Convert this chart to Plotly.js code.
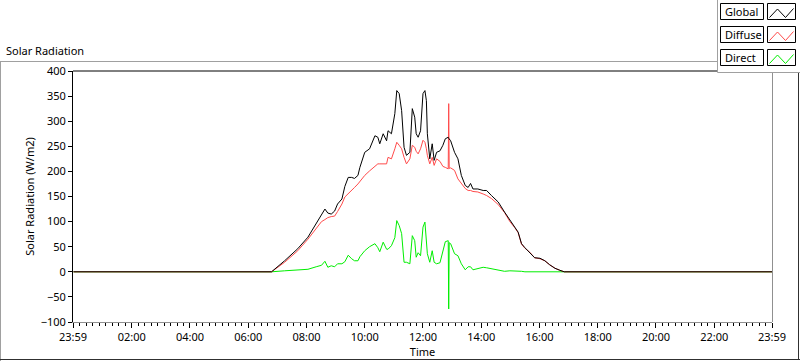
<!DOCTYPE html>
<html><head><meta charset="utf-8">
<script src="https://cdn.plot.ly/plotly-3.0.1.min.js"></script>
<style>html,body{margin:0;padding:0;background:#fff;}#chart{width:800px;height:361px;}</style>
</head><body><div id="chart"></div>
<script>
// ---- data ----
const times = ["00:00","06:48","07:15","07:42","08:03","08:20","08:31","08:38","08:44","08:51","08:58","09:04","09:13","09:19","09:26","09:33","09:39","09:46","09:50","10:00","10:10","10:21","10:27","10:31","10:38","10:45","10:48","10:55","11:02","11:06","11:11","11:16","11:21","11:26","11:33","11:38","11:43","11:46","11:50","11:55","12:00","12:04","12:07","12:09","12:14","12:19","12:23","12:28","12:35","12:41","12:46","12:52","12:53","12:54","12:57","13:05","13:12","13:19","13:27","13:33","13:38","13:43","13:53","14:04","14:11","14:21","14:35","14:48","14:59","15:09","15:16","15:23","15:30","15:40","15:50","16:01","16:11","16:21","16:32","16:42","16:51","23:59"];
const globalRad = [0,0,22,46,69,96,112,125,117,115,121,135,145,170,188,188,186,192,208,238,245,271,268,255,275,261,281,275,315,361,355,321,248,232,238,325,308,275,268,281,355,361,341,275,225,255,222,238,241,252,265,268,266,264,261,238,225,192,172,168,176,165,165,162,162,152,139,119,102,89,79,56,48,39,28,27,22,14,7,3,0,0];
const diffuseRad = [0,0,19,42,65,87,100,104,108,110,111,120,135,149,155,162,168,175,180,192,201,210,215,215,215,215,228,225,245,258,252,245,228,215,225,252,248,240,235,245,262,258,245,232,215,228,212,225,220,210,208,205,335,206,207,202,185,175,166,162,162,160,159,155,152,146,134,118,100,88,78,55,47,39,28,26,22,14,7,3,0,0];
const directRad = [0,0,2,4,5,10,13,21,9,12,10,16,16,20,33,26,22,22,30,42,50,56,48,40,59,45,45,52,68,102,92,76,19,19,16,72,62,29,38,32,89,99,56,36,19,42,19,16,18,42,60,62,-74,58,56,36,32,16,4,10,10,4,6,9,8,6,3,1,2,2,1,1,0,0,0,0,0,0,0,0,0,0];
const xTickLabels = ["23:59","02:00","04:00","06:00","08:00","10:00","12:00","14:00","16:00","18:00","20:00","22:00","23:59"];
const yTickValues = [-100,-50,0,50,100,150,200,250,300,350,400];
const seriesNames = ["Global","Diffuse","Direct"];
const seriesColors = ["#000000","#ff4a4a","#00ee00"];

// ---- helpers ----
const toMin = s => { const [h,m] = s.split(":").map(Number); return h*60+m; };
const xs = times.map(toMin);
const tickVals = xTickLabels.map((s,i) => i === 0 ? toMin(s) - 1440 : toMin(s));
const minorVals = [];
for (let i = 0; i < tickVals.length - 1; i++) {
  const a = tickVals[i], b = tickVals[i+1];
  for (let k = 1; k < 9; k++) minorVals.push(a + (b - a) * k / 9);
}

const W = 800, H = 361, ML = 73, MR = 28, MT = 71, MB = 39;
const PW = W - ML - MR, PH = H - MT - MB;
const fx = px => (px - ML) / PW;
const fy = py => (H - MB - py) / PH;
const FONT = "Noto Sans, Liberation Sans, sans-serif";

const traces = [
  {x: xs, y: directRad, name: seriesNames[2], type: "scatter", mode: "lines", line: {color: seriesColors[2], width: 1}},
  {x: xs, y: diffuseRad, name: seriesNames[1], type: "scatter", mode: "lines", line: {color: seriesColors[1], width: 1}},
  {x: xs, y: globalRad, name: seriesNames[0], type: "scatter", mode: "lines", line: {color: seriesColors[0], width: 1}}
];

const line = (x0,y0,x1,y1,color,layer) => ({type:"line", xref:"paper", yref:"paper", x0:fx(x0), y0:fy(y0), x1:fx(x1), y1:fy(y1), line:{color:color, width:1}, layer: layer || "above"});
const rect = (x0,y0,x1,y1,lc,fill) => ({type:"rect", xref:"paper", yref:"paper", x0:fx(x0), y0:fy(y0), x1:fx(x1), y1:fy(y1), line:{color:lc, width:lc ? 1 : 0}, fillcolor: fill, layer:"above"});

const shapes = [
  // outer frame
  line(0, 61.5, 800, 61.5, "#a0a0a0"),
  line(0.5, 61, 0.5, 361, "#a0a0a0"),
  line(0, 359.5, 800, 359.5, "#303030"),
  line(798.5, 61, 798.5, 360, "#303030"),
  // plot box top/right
  line(73, 71, 772.5, 71, "#000000"),
  line(772.5, 71, 772.5, 322, "#909090"),
  // legend panel
  rect(717.5, -1, 801, 72.5, "#a0a0a0", "#ffffff")
];
const annotations = [
  {text: "Solar Radiation", xref:"paper", yref:"paper", x: fx(4), y: fy(50), xanchor:"left", yanchor:"middle", showarrow:false, font:{family:FONT, size:11, color:"#000"}}
];
const rowTops = [3.5, 26.5, 49.5];
seriesNames.forEach((nm, i) => {
  const T = rowTops[i];
  shapes.push(rect(720.5, T, 763.5, T + 16, "#000000", "#ffffff"));
  shapes.push(rect(767.5, T, 795.5, T + 16, "#000000", "#ffffff"));
  const pts = [[769.5, T+14],[777.5, T+5.5],[785.5, T+14],[793.5, T+5]];
  shapes.push({type:"path", xref:"paper", yref:"paper", layer:"above",
    path: pts.map((p,k) => (k ? "L" : "M") + fx(p[0]) + "," + fy(p[1])).join(" "),
    line:{color: seriesColors[i], width:1}});
  annotations.push({text: nm, xref:"paper", yref:"paper", x: fx(723), y: fy(T + 8), xanchor:"left", yanchor:"middle", showarrow:false, font:{family:FONT, size:11, color:"#000"}});
});

const layout = {
  width: W, height: H,
  margin: {l: ML, r: MR, t: MT, b: MB, pad: 0},
  paper_bgcolor: "#ffffff", plot_bgcolor: "#ffffff",
  showlegend: false,
  font: {family: FONT, size: 11, color: "#000"},
  xaxis: {
    range: [tickVals[0], tickVals[tickVals.length-1]],
    tickmode: "array", tickvals: tickVals, ticktext: xTickLabels,
    ticks: "outside", ticklen: 5, tickcolor: "#000", tickwidth: 1,
    minor: {tickmode: "array", tickvals: minorVals, ticks: "outside", ticklen: 3, tickcolor: "#000", tickwidth: 1, showgrid: false},
    showline: true, linecolor: "#909090", linewidth: 1,
    showgrid: false, zeroline: false,
    tickfont: {family: FONT, size: 11, color: "#000"},
    title: {text: "Time", font: {family: FONT, size: 11, color: "#000"}, standoff: 4}
  },
  yaxis: {
    range: [-100, 400],
    tickmode: "array", tickvals: yTickValues,
    ticks: "outside", ticklen: 4, tickcolor: "#000", tickwidth: 1,
    showline: true, linecolor: "#000", linewidth: 1,
    showgrid: false, zeroline: false,
    tickfont: {family: FONT, size: 11, color: "#000"},
    title: {text: "Solar Radiation (W/m2)", font: {family: FONT, size: 11, color: "#000"}, standoff: 3}
  },
  shapes: shapes,
  annotations: annotations
};

Plotly.newPlot("chart", traces, layout, {displayModeBar: false, staticPlot: true});
</script>
</body></html>
